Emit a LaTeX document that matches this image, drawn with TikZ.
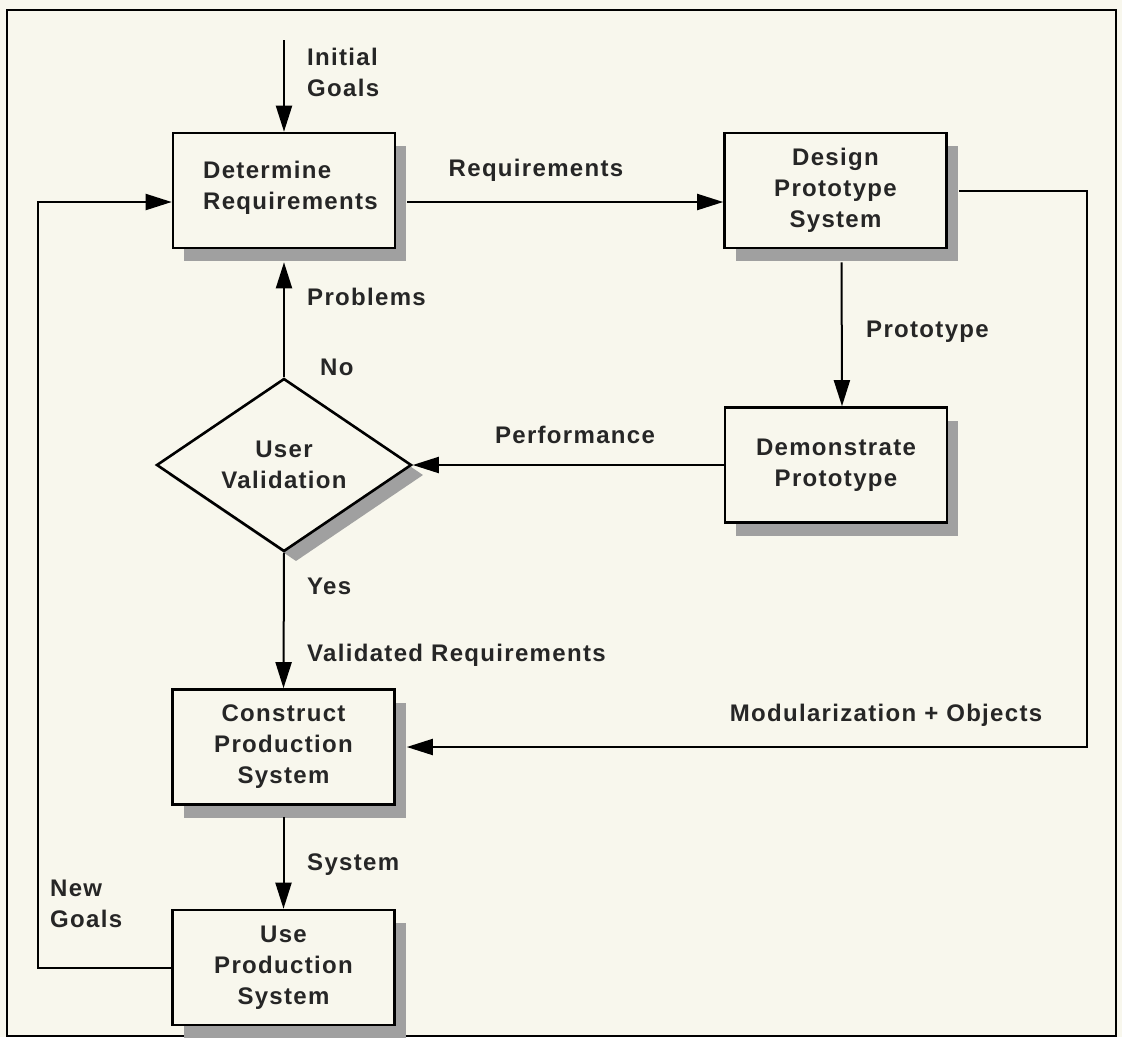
\documentclass[tikz,border=0pt]{standalone}
\usepackage{fontspec}
\setmainfont{Liberation Sans}[LetterSpace=5.5]
\usetikzlibrary{arrows.meta,shapes.geometric,shadows,calc}
\definecolor{paper}{RGB}{248,247,237}
\definecolor{shade}{RGB}{160,160,160}
\begin{document}
\begin{tikzpicture}[x=1pt,y=-1pt,
  every node/.style={font=\fontsize{24}{31}\selectfont\bfseries, inner sep=0pt, text=black!85},
  stepbox/.style={draw, line width=2.6pt, fill=paper,
    minimum width=222pt, minimum height=115pt, align=center,
    drop shadow={shadow xshift=11pt, shadow yshift=-13pt, fill=shade, opacity=1}},
  decision/.style={diamond, aspect=1.47, draw, line width=2.6pt, fill=paper,
    minimum width=255pt, minimum height=173pt, align=center,
    drop shadow={shadow xshift=12pt, shadow yshift=-10pt, fill=shade, opacity=1}},
  arr/.style={line width=2pt, -{Triangle[length=26pt,width=16pt]}},
  lbl/.style={anchor=west, align=left}
]
% paper and frame
\fill[paper] (0,0) rectangle (1122,1037);
\useasboundingbox (0,0) rectangle (1122,1037);
\draw[line width=2.6pt] (7,10) rectangle (1116,1036);

% process boxes
\node (dr)   [stepbox] at (284,190.5) {};
\node (drtext) [lbl] at (203,188) {Determine\\Requirements};
\node (dps)  [stepbox] at (835.5,190.5) {Design\\Prototype\\System};
\node (demo) [stepbox] at (836,465) {Demonstrate\\Prototype};
\node (uv)   [decision] at (284,465) {User\\Validation};
\node (cps)  [stepbox] at (283.5,747) {Construct\\Production\\System};
\node (ups)  [stepbox] at (283.5,967.5) {Use\\Production\\System};

% helper points for the connectors
\coordinate (ig) at (284,40);
\coordinate (mc) at (1087,0);
\coordinate (ng) at (38,0);
\coordinate (drin) at ([yshift=-11.5pt]dr.west);
\coordinate (drout) at ([yshift=-11.5pt]dr.east);
\coordinate (dpsin) at ([yshift=-11.5pt]dps.west);

% connectors
\draw[arr] (ig) -- (dr.north);
\draw[arr, shorten <=11pt] (drout) -- (dpsin);
\draw[arr, shorten <=13pt] ([xshift=6pt]dps.south) -- ([xshift=6pt]demo.north);
\draw[arr] (demo.west) -- (uv.east);
\draw[arr, shorten >=13pt] (uv.north) -- (dr.south);
\draw[arr] (uv.south) -- (cps.north);
\draw[arr, shorten <=11pt] (cps.south) -- (ups.north);
\draw[arr, shorten <=11pt, shorten >=11pt] (dps.east) -| (mc |- cps.east) -- (cps.east);
\draw[arr] (ups.west) -| (ng |- drin) -- (drin);

% connector labels
\node (l1) [lbl] at (307,72) {Initial\\Goals};
\node (l2) at (536,170) {Requirements};
\node (l3) [lbl] at (307,297) {Problems};
\node (l4) [lbl] at (320,367) {No};
\node (l5) at (575,435) {Performance};
\node (l6) [lbl] at (866,332) {Prototype};
\node (l7) [lbl] at (307,586) {Yes};
\node (l8) [lbl] at (307,655) {Validated Requirements};
\node (l9) at (886,715) {Modularization + Objects};
\node (l10) [lbl] at (307,865) {System};
\node (l11) [lbl] at (50,904) {New\\Goals};
\end{tikzpicture}
\end{document}
